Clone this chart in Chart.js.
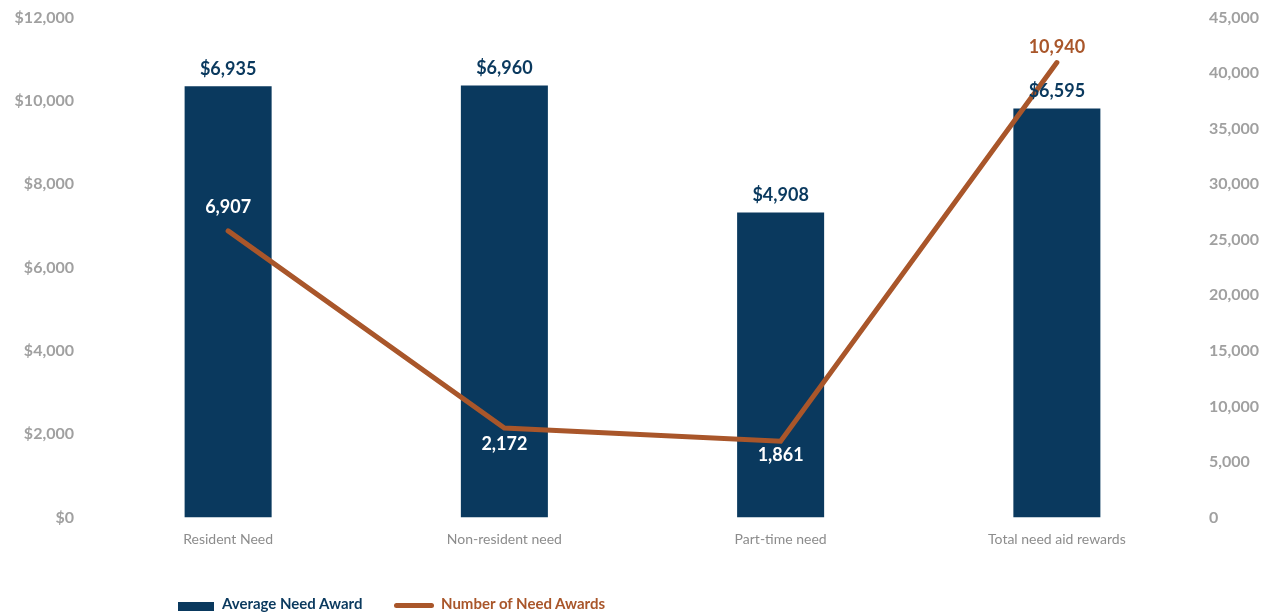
<!DOCTYPE html>
<html>
<head>
<meta charset="utf-8">
<script src="https://cdn.jsdelivr.net/npm/chart.js@4"></script>
<style>
  html, body { margin: 0; padding: 0; background: #fff; }
  #wrap { position: relative; width: 1275px; height: 616px; }
  #legend { position: absolute; left: 178px; top: 594px; font-family: Lato, sans-serif; font-weight: bold; font-size: 15px; }
  .item { position: absolute; white-space: nowrap; top: 0; }
  .sw { position: absolute; }
</style>
</head>
<body>
<div id="wrap">
  <canvas id="chart" width="1275" height="616"></canvas>
  <div id="legend"></div>
</div>
<script>
// categories
const categories = ['Resident Need', 'Non-resident need', 'Part-time need', 'Total need aid rewards'];
// bar heights as drawn (left axis)
const barHeights = [10350, 10370, 7320, 9820];
const barLabels = ['$6,935', '$6,960', '$4,908', '$6,595'];
// line values
const lineValues = [6880, 2150, 1830, 10920];
const lineLabels = ['6,907', '2,172', '1,861', '10,940'];
// tick settings
const leftMax = 12000, leftStep = 2000;
const rightMax = 45000, rightStep = 5000;

const navy = '#0a395e';
const rust = '#a9562a';
const tickGray = '#a0a0a0';

// 数值标签插件
const valueLabels = {
  id: 'valueLabels',
  afterDatasetsDraw(chart) {
    const ctx = chart.ctx;
    ctx.save();
    ctx.textAlign = 'center';
    ctx.textBaseline = 'middle';
    ctx.font = 'bold 18px Lato';
    // bar labels
    chart.getDatasetMeta(1).data.forEach((bar, i) => {
      ctx.fillStyle = navy;
      ctx.fillText(barLabels[i], bar.x, bar.y - 17);
    });
    // line labels
    const offsets = [-24, 16, 14, -15];
    chart.getDatasetMeta(0).data.forEach((pt, i) => {
      ctx.fillStyle = i === 3 ? rust : '#ffffff';
      ctx.fillText(lineLabels[i], pt.x, pt.y + offsets[i]);
    });
    ctx.restore();
  }
};

const ctx = document.getElementById('chart').getContext('2d');
new Chart(ctx, {
  data: {
    labels: categories,
    datasets: [
      {
        type: 'line',
        label: 'Number of Need Awards',
        data: lineValues,
        yAxisID: 'y',
        borderColor: rust,
        borderWidth: 5,
        borderCapStyle: 'round',
        borderJoinStyle: 'miter',
        pointRadius: 0,
        tension: 0,
        order: 0
      },
      {
        type: 'bar',
        label: 'Average Need Award',
        data: barHeights,
        yAxisID: 'y',
        backgroundColor: navy,
        barPercentage: 0.315,
        categoryPercentage: 1,
        order: 1
      }
    ]
  },
  options: {
    responsive: false,
    animation: false,
    layout: { padding: { top: 0, bottom: 0, left: 0, right: 0 } },
    plugins: { legend: { display: false }, tooltip: { enabled: false } },
    scales: {
      x: {
        grid: { display: false },
        border: { display: false },
        ticks: { color: '#8c8c8c', font: { family: 'Lato', size: 14 }, padding: 6, maxRotation: 0 },
        afterFit(s) { s.height = 98.5; }
      },
      y: {
        position: 'left',
        min: 0, max: leftMax,
        grid: { display: false },
        border: { display: false },
        ticks: {
          stepSize: leftStep,
          color: tickGray,
          font: { family: 'Lato', size: 16, weight: 'bold' },
          padding: 8,
          callback: v => '$' + v.toLocaleString('en-US')
        },
        afterFit(s) { s.width = 90; }
      },
      y2: {
        position: 'right',
        min: 0, max: rightMax,
        grid: { display: false },
        border: { display: false },
        ticks: {
          stepSize: rightStep,
          color: tickGray,
          font: { family: 'Lato', size: 16, weight: 'bold' },
          padding: 6,
          callback: v => v.toLocaleString('en-US')
        },
        afterFit(s) { s.width = 80; }
      }
    }
  },
  plugins: [valueLabels]
});

// legend
const legend = document.getElementById('legend');
legend.innerHTML =
  '<div class="sw" style="left:0;top:8px;width:36px;height:9px;background:' + navy + '"></div>' +
  '<div class="item" style="left:44px;color:' + navy + '">Average Need Award</div>' +
  '<div class="sw" style="left:216px;top:9px;width:40px;height:5px;border-radius:3px;background:' + rust + '"></div>' +
  '<div class="item" style="left:263px;color:' + rust + '">Number of Need Awards</div>';
</script>
</body>
</html>
